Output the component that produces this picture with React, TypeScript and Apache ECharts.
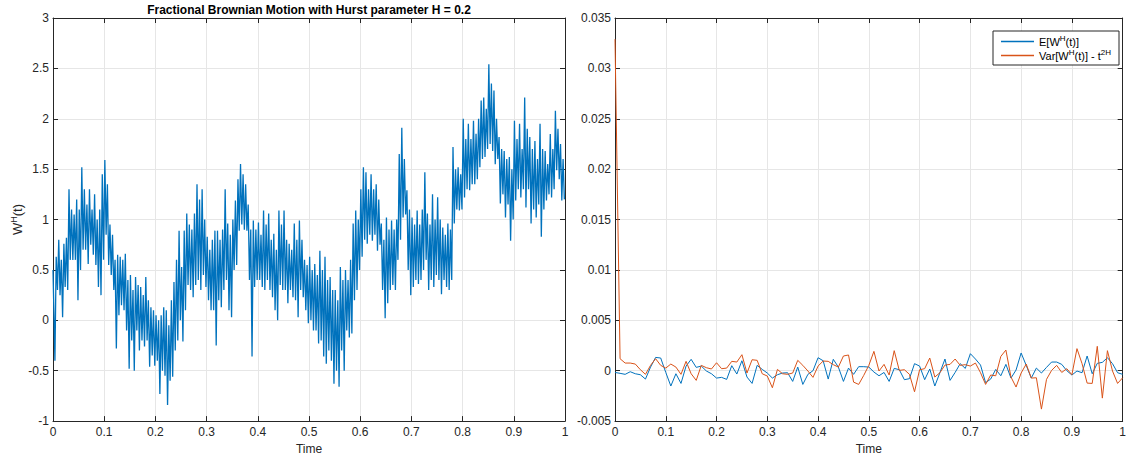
import React, { useEffect, useRef } from "react";
import * as echarts from "echarts";

// ---------- data ----------
// Left panel: fractional Brownian path (H = 0.2); local maxima / minima of the
// trace, read per 0.005 time slice (200 slices from t = 0 to t = 1)
const fbmStart = 0.5;
const fbmEnd = 1.2;
const fbmHigh = [
  0.5, 0.63, 0.8, 0.6, 0.76, 0.82, 1.3, 1.1, 1.05, 1.2,
  1.1, 1.52, 1.3, 1.15, 1.3, 1.1, 1.25, 1.0, 1.1, 1.45,
  1.59, 1.35, 0.95, 0.85, 0.6, 0.65, 0.63, 0.6, 0.66, 0.4,
  0.45, 0.3, 0.43, 0.35, 0.33, 0.25, 0.43, 0.2, 0.13, 0.1,
  0.05, 0.0, 0.05, 0.13, 0.1, -0.05, 0.2, 0.38, 0.6, 0.89,
  0.53, 0.89, 1.06, 0.95, 0.9, 1.06, 1.35, 1.2, 1.3, 1.0,
  0.83, 0.7, 0.8, 0.89, 0.89, 0.8, 0.9, 1.3, 0.96, 0.85,
  1.0, 1.19, 1.4, 1.55, 1.45, 1.35, 1.15, 0.9, 0.99, 0.9,
  0.97, 0.85, 1.09, 0.95, 1.06, 0.8, 0.86, 0.7, 1.09, 0.95,
  1.09, 0.8, 0.76, 0.7, 0.96, 0.8, 0.99, 0.8, 0.6, 0.55,
  0.63, 0.5, 0.56, 0.45, 0.69, 0.5, 0.63, 0.4, 0.43, 0.3,
  0.3, 0.2, 0.53, 0.4, 0.5, 0.4, 0.6, 0.96, 1.09, 1.0,
  1.3, 1.52, 1.47, 1.3, 1.45, 1.3, 1.35, 1.2, 0.96, 0.8,
  1.02, 0.9, 0.99, 0.9, 1.0, 1.65, 1.91, 1.6, 1.29, 1.1,
  1.02, 0.95, 1.09, 0.95, 1.1, 1.47, 1.06, 0.95, 1.25, 1.0,
  1.22, 1.0, 0.92, 0.85, 0.96, 0.9, 1.72, 1.5, 1.52, 1.45,
  2.0, 1.8, 1.95, 1.8, 1.98, 1.85, 2.0, 2.18, 2.21, 2.1,
  2.54, 2.35, 2.28, 2.0, 1.82, 1.7, 1.68, 1.6, 1.62, 1.5,
  1.98, 1.8, 1.95, 1.7, 2.21, 1.9, 1.82, 1.7, 1.78, 1.6,
  1.95, 1.7, 1.68, 1.55, 1.85, 1.7, 2.08, 1.9, 1.75, 1.6,
];
const fbmLow = [
  -0.4, 0.3, 0.25, 0.03, 0.33, 0.3, 0.6, 0.6, 0.6, 0.2,
  0.5, 0.7, 0.7, 0.56, 0.75, 0.65, 0.55, 0.33, 0.25, 0.6,
  0.85, 0.55, 0.45, 0.3, -0.28, 0.05, 0.15, 0.1, -0.1, -0.48,
  -0.2, -0.5, -0.1, -0.3, -0.2, -0.26, -0.2, -0.46, -0.35, -0.45,
  -0.4, -0.73, -0.5, -0.55, -0.84, -0.6, -0.56, -0.3, -0.2, 0.0,
  -0.21, 0.1, 0.35, 0.3, 0.23, 0.35, 0.4, 0.3, 0.45, 0.33,
  0.2, 0.1, 0.1, -0.25, 0.2, 0.13, 0.3, 0.4, 0.1, 0.03,
  0.5, 0.55, 0.89, 0.95, 0.9, 0.89, 0.4, -0.36, 0.33, 0.4,
  0.4, 0.33, 0.3, 0.4, 0.3, 0.23, 0.1, 0.0, 0.35, 0.3,
  0.3, 0.17, 0.3, 0.23, 0.2, 0.03, 0.3, 0.23, 0.1, -0.03,
  0.0, -0.1, -0.1, -0.23, -0.2, -0.36, -0.43, -0.3, -0.4, -0.63,
  -0.5, -0.66, -0.3, -0.5, -0.1, -0.17, -0.13, 0.2, 0.3, 0.5,
  0.63, 0.8, 0.76, 0.85, 0.79, 0.85, 0.69, 0.75, 0.3, 0.02,
  0.17, 0.3, 0.35, 0.3, 0.6, 0.8, 1.02, 1.05, 0.5, 0.25,
  0.33, 0.4, 0.36, 0.4, 0.5, 0.6, 0.3, 0.4, 0.33, 0.45,
  0.4, 0.26, 0.4, 0.33, 0.3, 0.4, 0.96, 1.1, 1.09, 1.1,
  1.22, 1.3, 1.29, 1.35, 1.35, 1.4, 1.52, 1.6, 1.62, 1.7,
  1.75, 1.68, 1.55, 1.6, 1.16, 1.25, 1.02, 1.15, 0.79, 1.0,
  1.19, 1.3, 1.22, 1.3, 1.12, 1.3, 0.96, 1.1, 1.02, 1.15,
  0.83, 1.1, 1.19, 1.25, 1.22, 1.3, 1.49, 1.4, 1.19, 1.2,
];

// Right panel: sample mean and variance error at t = 0, 0.01, ..., 1
const meanValues = [
  -0.00017, -0.00026, -0.00036, -0.0001, -0.0003, -0.0004, -0.00083, 0.00036, 0.00132, 0.00126,
  -0.00017, -0.00152, -0.0003, -0.00126, 0.00046, 0.00113, 0.00033, 0.00046, -0.00003, -0.0003,
  -0.00073, -0.00066, -0.00086, 0.0005, -0.00033, 0.00099, -0.00063, -0.00126, 0.00053, 0.00013,
  -0.00023, -0.00073, -0.0004, -0.00023, -0.0002, -0.00106, 0.00036, -0.00136, -0.00036, 0.0,
  0.00129, 0.00099, -0.00083, 0.00113, 0.00036, -0.00106, 0.00026, -0.00036, 0.0004, 0.0004,
  0.00036, -0.00013, -0.0005, -0.00017, -0.00106, 0.00023, 0.0001, -0.00089, -0.00079, 0.0007,
  0.00046, -0.00089, 0.00017, -0.00152, -0.0002, 0.00116, -0.00096, -0.00017, 0.0007, 0.00023,
  0.00169, 0.00116, 0.00056, -0.00119, -0.00083, 0.00013, -0.0005, 0.00063, -0.00073, 0.00007,
  0.00176, 0.00053, -0.00073, 0.00026, -0.00023, 0.00033, 0.00086, 0.00086, 0.00063, 0.0,
  -0.00043, -0.00003, -0.0002, 0.00146, -0.0003, 0.00073, 0.00083, 0.00129, 0.0007, -0.0002,
  -0.00036,
];
const varValues = [
  0.0329, 0.00119, 0.00076, 0.00076, 0.00066, 0.0001, -0.00036, 0.00053, 0.00119, 0.00053,
  0.00026, 0.00066, 0.00036, -0.00036, 0.00093, -0.0003, -0.00096, 0.00053, 0.0003, 0.00017,
  0.00079, 0.0002, 0.00026, 0.00093, 0.00086, 0.00159, -0.00023, 0.00109, 0.00103, -0.0003,
  -0.00053, -0.00169, 0.00013, -0.0003, -0.00036, -0.00023, 0.00103, 0.00053, -0.00003, -0.00066,
  0.00046, 0.00096, 0.00093, 0.0006, 0.00036, 0.00146, 0.00156, -0.00113, -0.00136, -0.00046,
  0.00053, 0.00192, -0.00003, 0.00063, -0.00043, 0.00199, 0.00003, 0.0001, -0.00036, -0.00209,
  0.0001, 0.0002, 0.00126, -0.00063, -0.0002, 0.00056, 0.00063, 0.00116, 0.00053, 0.0006,
  0.00046, 0.00076, -0.0002, -0.00136, -0.00043, -0.0005, 0.00142, 0.00205, -0.00063, -0.00162,
  -0.00023, 0.00066, -0.00073, -0.0007, -0.00381, -0.00086, 0.00003, 0.00053, -0.00017, 0.0002,
  -0.0004, 0.00219, 0.0007, -0.00123, -0.00126, 0.00242, -0.00272, 0.00199, -0.00003, -0.00126,
  -0.0007,
];

const titleText = "Fractional Brownian Motion with Hurst parameter H = 0.2";
const xAxisName = "Time";
const meanName = "mean";
const varName = "var";

// ---------- styling ----------
const FONT = '"Liberation Sans", Arial, Helvetica, sans-serif';
const AX = "#262626";
const GRIDC = "#e6e6e6";
const BLUE = "#0072BD";
const ORANGE = "#D95319";

const fmt1 = (v: number) => String(Math.round(v * 10) / 10);
const fmt3 = (v: number) => String(Math.round(v * 1000) / 1000);

function buildFbm() {
  const slice = 1 / fbmHigh.length;
  const pts: number[][] = [[0, fbmStart]];
  for (let j = 0; j < fbmHigh.length; j++) {
    pts.push([j * slice + slice * 0.25, fbmHigh[j]]);
    pts.push([j * slice + slice * 0.75, fbmLow[j]]);
  }
  pts.push([1, fbmEnd]);
  return pts;
}

function buildSeries(vals: number[]) {
  return vals.map((v, i) => [i / (vals.length - 1), v]);
}

function mainX(gridIndex: number) {
  return {
    type: "value",
    gridIndex,
    position: "bottom",
    min: 0,
    max: 1,
    interval: 0.1,
    name: xAxisName,
    nameLocation: "middle",
    nameGap: 20,
    nameTextStyle: { color: AX, fontSize: 12, fontFamily: FONT },
    axisLine: { show: true, onZero: false, lineStyle: { color: AX, width: 1 } },
    axisTick: { show: true, inside: true, length: 5, lineStyle: { color: AX } },
    axisLabel: { color: AX, fontSize: 12, fontFamily: FONT, margin: 5, formatter: fmt1 },
    splitLine: { show: true, lineStyle: { color: GRIDC, width: 1 } },
  };
}
function topX(gridIndex: number) {
  return {
    type: "value",
    gridIndex,
    position: "top",
    min: 0,
    max: 1,
    interval: 0.1,
    axisLine: { show: true, onZero: false, lineStyle: { color: AX, width: 1 } },
    axisTick: { show: true, inside: true, length: 5, lineStyle: { color: AX } },
    axisLabel: { show: false },
    splitLine: { show: false },
  };
}
function leftY(gridIndex: number, min: number, max: number, interval: number, formatter: (v: number) => string, extra: any = {}) {
  return {
    type: "value",
    gridIndex,
    position: "left",
    min,
    max,
    interval,
    axisLine: { show: true, onZero: false, lineStyle: { color: AX, width: 1 } },
    axisTick: { show: true, inside: true, length: 5, lineStyle: { color: AX } },
    axisLabel: { color: AX, fontSize: 12, fontFamily: FONT, margin: 4, formatter },
    splitLine: { show: true, lineStyle: { color: GRIDC, width: 1 } },
    ...extra,
  };
}
function rightY(gridIndex: number, min: number, max: number, interval: number) {
  return {
    type: "value",
    gridIndex,
    position: "right",
    min,
    max,
    interval,
    axisLine: { show: true, onZero: false, lineStyle: { color: AX, width: 1 } },
    axisTick: { show: true, inside: true, length: 5, lineStyle: { color: AX } },
    axisLabel: { show: false },
    splitLine: { show: false },
  };
}

export default function App() {
  const ref = useRef<HTMLDivElement>(null);
  useEffect(() => {
    if (!ref.current) return;
    const chart = echarts.init(ref.current, null, { renderer: "svg" });
    const option: any = {
      animation: false,
      backgroundColor: "#ffffff",
      textStyle: { fontFamily: FONT },
      grid: [
        { left: 53, top: 18, width: 512, height: 406, containLabel: false },
        { left: 615, top: 18, width: 511, height: 406, containLabel: false },
      ],
      xAxis: [mainX(0), topX(0), mainX(1), topX(1)],
      yAxis: [
        leftY(0, -1, 3, 0.5, fmt1, {
          name: "{n|W}{s|H}{n|(t)}",
          nameLocation: "middle",
          nameGap: 21,
          nameRotate: 90,
          nameTextStyle: {
            color: AX,
            fontFamily: FONT,
            rich: {
              n: { fontSize: 13, color: AX, fontFamily: FONT, lineHeight: 17 },
              s: { fontSize: 9, color: AX, fontFamily: FONT, verticalAlign: "top", lineHeight: 17 },
            },
          },
        }),
        rightY(0, -1, 3, 0.5),
        leftY(1, -0.005, 0.035, 0.005, fmt3),
        rightY(1, -0.005, 0.035, 0.005),
      ],
      legend: {
        show: true,
        orient: "vertical",
        left: 993,
        top: 31,
        padding: [3, 8, 4, 8],
        itemGap: 1,
        itemWidth: 33,
        itemHeight: 1.5,
        icon: "rect",
        borderColor: AX,
        borderWidth: 1,
        backgroundColor: "#ffffff",
        data: [meanName, varName],
        formatter: (name: string) =>
          name === meanName
            ? "{n|E[W}{s|H}{n|(t)]}"
            : "{n|Var[W}{s|H}{n|(t)] - t}{s|2H}",
        textStyle: {
          color: "#000",
          fontFamily: FONT,
          rich: {
            n: { fontSize: 11, color: "#000", fontFamily: FONT, lineHeight: 15 },
            s: { fontSize: 8, color: "#000", fontFamily: FONT, verticalAlign: "top", lineHeight: 15 },
          },
        },
      },
      graphic: [
        {
          type: "text",
          x: 309,
          y: 10,
          style: {
            text: titleText,
            textAlign: "center",
            textVerticalAlign: "middle",
            font: `bold 12px ${FONT}`,
            fill: "#000",
          },
        },
      ],
      series: [
        {
          type: "line",
          name: "fbm",
          xAxisIndex: 0,
          yAxisIndex: 0,
          data: buildFbm(),
          symbol: "none",
          lineStyle: { color: BLUE, width: 1.3 },
          itemStyle: { color: BLUE },
        },
        {
          type: "line",
          name: meanName,
          xAxisIndex: 2,
          yAxisIndex: 2,
          data: buildSeries(meanValues),
          symbol: "none",
          lineStyle: { color: BLUE, width: 1 },
          itemStyle: { color: BLUE },
        },
        {
          type: "line",
          name: varName,
          xAxisIndex: 2,
          yAxisIndex: 2,
          data: buildSeries(varValues),
          symbol: "none",
          lineStyle: { color: ORANGE, width: 1 },
          itemStyle: { color: ORANGE },
        },
      ],
    };
    chart.setOption(option);
    return () => chart.dispose();
  }, []);
  return (
    <div
      ref={ref}
      style={{ position: "fixed", left: 0, top: 0, width: 1129, height: 460, background: "#fff" }}
    />
  );
}
